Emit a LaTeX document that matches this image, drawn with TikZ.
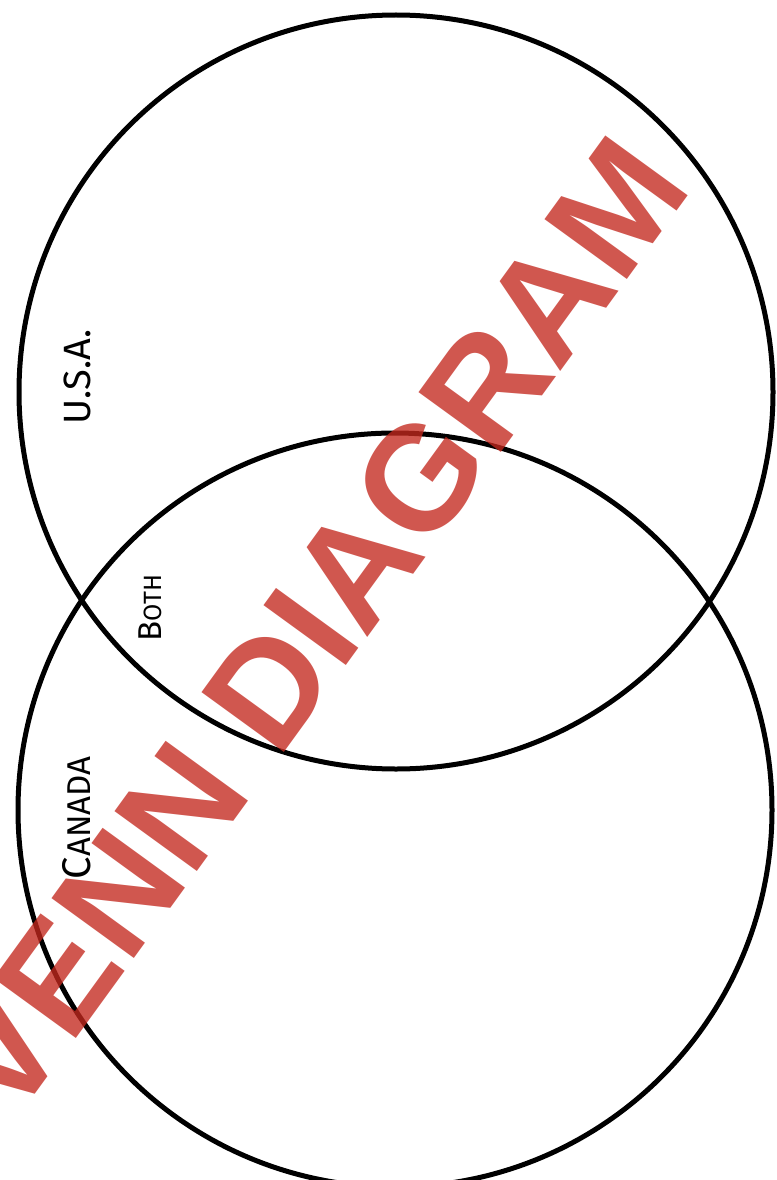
\documentclass[tikz,border=0pt]{standalone}
\usepackage{fontspec}
\setmainfont{Liberation Sans}
\newfontfamily\handfont{Fira Sans}
\definecolor{wm}{RGB}{196,40,30}
\begin{document}
\begin{tikzpicture}[x=1pt,y=-1pt,
  ring/.style={circle,draw=black,line width=5pt,minimum size=754pt,inner sep=0pt},
  lab/.style={rotate=90,font=\handfont,inner sep=0pt,anchor=center},
  watermark/.style={rotate=54,anchor=base,inner sep=0pt,text=wm,text opacity=0.78,
    font=\fontsize{148}{148}\selectfont\bfseries}]
\useasboundingbox (0,0) rectangle (776,1180);
\clip (0,0) rectangle (776,1180);
\fill[white] (0,0) rectangle (776,1180);
\node[ring] (usaring) at (396,392) {};
\node[ring] (canring) at (395,810) {};
\node[lab,font=\handfont\fontsize{38}{38}\selectfont] (usa) at (77,377) {U.S.A.};
\node[lab] (both) at (150,608) {\fontsize{33}{33}\selectfont B\fontsize{25}{25}\selectfont OTH};
\node[lab] (canada) at (77,818) {\fontsize{40}{40}\selectfont C\fontsize{33}{33}\selectfont ANADA};
\node[watermark] (venn) at (353,657) {VENN DIAGRAM};
\end{tikzpicture}
\end{document}
